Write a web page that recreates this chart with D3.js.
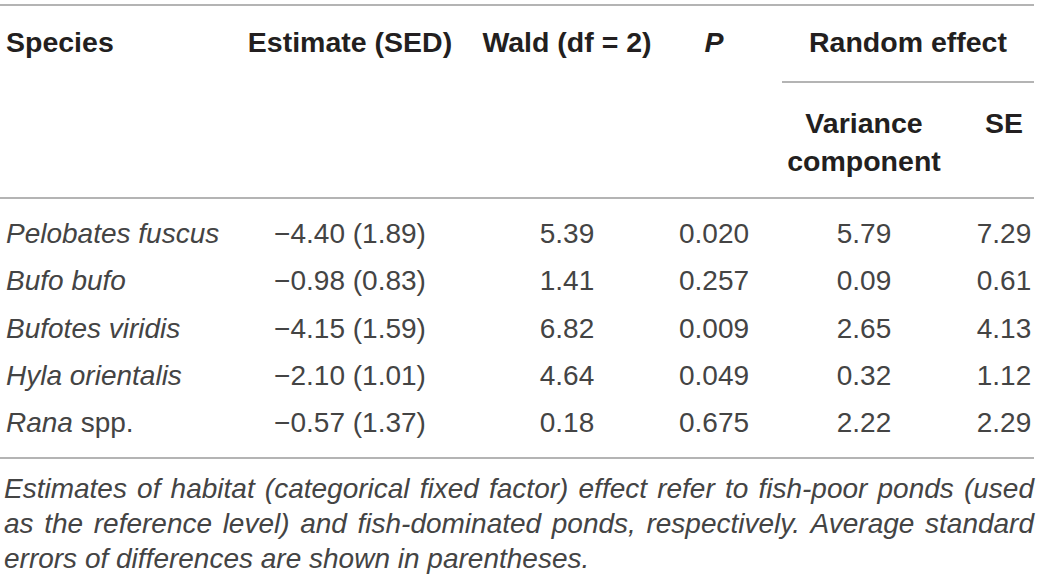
<!DOCTYPE html>
<html>
<head>
<meta charset="utf-8">
<script src="https://cdn.jsdelivr.net/npm/d3@7"></script>
<style>
  html, body { margin: 0; padding: 0; background: #fff; }
  svg { display: block; font-family: "Liberation Sans", Arial, Helvetica, sans-serif; }
  .rule { stroke: #9b9b9b; stroke-width: 1.5; }
  .head { font-weight: bold; fill: #231f20; font-size: 28.5px; }
  .cell { fill: #444; font-size: 28px; }
  .note { fill: #444; font-size: 28px; font-style: italic; }
</style>
</head>
<body>
<div id="table"></div>
<script>
// table values
const species = ["Pelobates fuscus", "Bufo bufo", "Bufotes viridis", "Hyla orientalis", "Rana spp."];
const estimate = [-4.40, -0.98, -4.15, -2.10, -0.57];
const sed = [1.89, 0.83, 1.59, 1.01, 1.37];
const wald = [5.39, 1.41, 6.82, 4.64, 0.18];
const pValue = [0.020, 0.257, 0.009, 0.049, 0.675];
const varComp = [5.79, 0.09, 2.65, 0.32, 2.22];
const seRandom = [7.29, 0.61, 4.13, 1.12, 2.29];

const columns = ["species", "estimate", "wald", "p", "variance", "se"];
const footnoteLines = [
  "Estimates of habitat (categorical fixed factor) effect refer to fish-poor ponds (used",
  "as the reference level) and fish-dominated ponds, respectively. Average standard",
  "errors of differences are shown in parentheses."
];

const width = 1041, height = 581;
const left = 4, right = 1034;

const svg = d3.select("#table").append("svg")
  .attr("width", width)
  .attr("height", height);

// column centres (species column is left aligned)
const x = d3.scaleOrdinal()
  .domain(columns)
  .range([6, 350, 567, 714, 864, 1004]);

const y = d3.scalePoint()
  .domain(species)
  .range([243, 432]);

const f2 = d3.format(".2f");
const f3 = d3.format(".3f");

const rows = species.map((s, i) => ({
  species: s,
  estimate: `${f2(estimate[i])} (${f2(sed[i])})`,
  wald: f2(wald[i]),
  p: f3(pValue[i]),
  variance: f2(varComp[i]),
  se: f2(seRandom[i])
}));

// rules
const rules = [
  { x1: 0, x2: right, y: 5 },
  { x1: 782, x2: right, y: 82 },
  { x1: 0, x2: right, y: 198 },
  { x1: 0, x2: right, y: 458 }
];
svg.selectAll("line.rule")
  .data(rules)
  .join("line")
  .attr("class", "rule")
  .attr("x1", (d) => d.x1)
  .attr("x2", (d) => d.x2)
  .attr("y1", (d) => d.y)
  .attr("y2", (d) => d.y);

// header
const header = [
  { col: "species", text: "Species", y: 52, anchor: "start" },
  { col: "estimate", text: "Estimate (SED)", y: 52 },
  { col: "wald", text: "Wald (df = 2)", y: 52 },
  { col: "p", text: "P", y: 52, italic: true },
  { x: 908, text: "Random effect", y: 52 },
  { col: "variance", text: "Variance", y: 133 },
  { col: "variance", text: "component", y: 171 },
  { col: "se", text: "SE", y: 133 }
];
svg.append("g").selectAll("text")
  .data(header)
  .join("text")
  .attr("class", "head")
  .attr("x", (d) => d.x != null ? d.x : x(d.col))
  .attr("y", (d) => d.y)
  .attr("text-anchor", (d) => d.anchor || "middle")
  .style("font-style", (d) => d.italic ? "italic" : null)
  .text((d) => d.text);

// body
const rowG = svg.append("g").selectAll("g")
  .data(rows)
  .join("g")
  .attr("transform", (d) => `translate(0,${y(d.species)})`);

rowG.append("text")
  .attr("class", "cell")
  .attr("x", x("species"))
  .each(function (d) {
    const t = d3.select(this);
    const m = d.species.match(/^(.*?)( spp\.)?$/);
    t.append("tspan").style("font-style", "italic").text(m[1]);
    if (m[2]) t.append("tspan").text(m[2]);
  });

columns.slice(1).forEach((col) => {
  rowG.append("text")
    .attr("class", "cell")
    .attr("x", x(col))
    .attr("text-anchor", "middle")
    .text((d) => d[col]);
});

// footnote, justified except the last line
const noteY = d3.scalePoint()
  .domain(d3.range(footnoteLines.length))
  .range([498, 568]);

function measure(str) {
  const t = svg.append("text").attr("class", "note").text(str);
  const w = t.node().getComputedTextLength();
  t.remove();
  return w;
}
const spaceW = measure("a a") - 2 * measure("a");

footnoteLines.forEach((line, li) => {
  const words = line.split(" ");
  const g = svg.append("g").attr("transform", `translate(0,${noteY(li)})`);
  const nodes = g.selectAll("text")
    .data(words)
    .join("text")
    .attr("class", "note")
    .text((d) => d);
  const widths = nodes.nodes().map((n) => n.getComputedTextLength());
  const last = li === footnoteLines.length - 1;
  const gap = last ? spaceW : (right - left - d3.sum(widths)) / (words.length - 1);
  let cx = left;
  nodes.attr("x", (d, i) => {
    const px = cx;
    cx += widths[i] + gap;
    return px;
  });
});
</script>
</body>
</html>
